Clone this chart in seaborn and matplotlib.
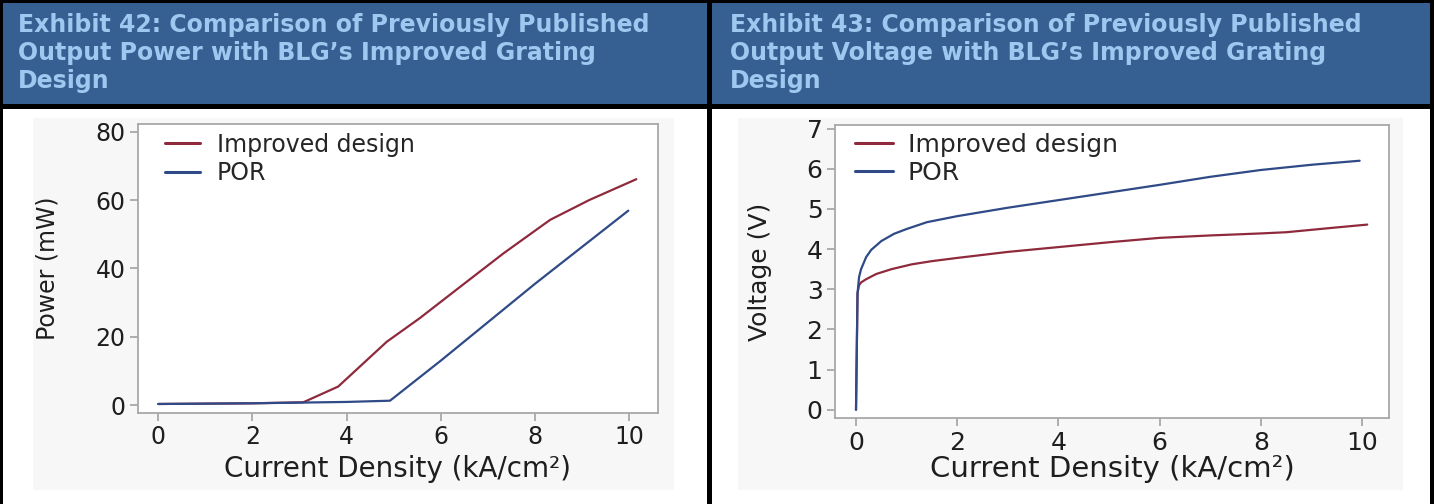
import numpy as np
import pandas as pd
import seaborn as sns
from matplotlib import pyplot as plt
from matplotlib.patches import Rectangle

# power vs current density (left)
power_improved_x = [0, 1, 2, 3.08, 3.82, 4.85, 5.55, 6.41, 7.33, 8.32, 9.15, 10.15]
power_improved_y = [0.3, 0.4, 0.5, 0.8, 5.4, 18.5, 25.4, 34.6, 44.4, 54.2, 60.0, 66.1]
power_por_x = [0, 1, 2, 3, 4, 4.92, 6.0, 8.0, 9.98]
power_por_y = [0.3, 0.4, 0.5, 0.7, 0.9, 1.26, 13.0, 35.5, 56.9]

# voltage vs current density (right)
volt_improved_x = [0, 0.03, 0.06, 0.1, 0.2, 0.4, 0.7, 1.1, 1.5, 2, 3, 4, 5, 6, 7, 8, 8.5, 9, 9.5, 10.1]
volt_improved_y = [0, 2.9, 3.1, 3.17, 3.25, 3.38, 3.5, 3.62, 3.7, 3.78, 3.93, 4.05, 4.17, 4.28, 4.34, 4.39, 4.42, 4.48, 4.54, 4.61]
volt_por_x = [0, 0.03, 0.06, 0.1, 0.2, 0.3, 0.5, 0.75, 1.0, 1.4, 2, 3, 4, 5, 6, 7, 8, 9, 9.95]
volt_por_y = [0, 2.9, 3.3, 3.5, 3.8, 3.98, 4.2, 4.38, 4.5, 4.67, 4.82, 5.03, 5.22, 5.41, 5.6, 5.8, 5.97, 6.1, 6.2]

series_names = ['Improved design', 'POR']
series_colors = ['#8e2a3c', '#2f4a86']

titles = ['Exhibit 42: Comparison of Previously Published\nOutput Power with BLG\u2019s Improved Grating\nDesign',
          'Exhibit 43: Comparison of Previously Published\nOutput Voltage with BLG\u2019s Improved Grating\nDesign']

W, H = 1434, 504


def to_frame(xs, ys):
    parts = []
    for name, x, y in zip(series_names, xs, ys):
        parts.append(pd.DataFrame({'x': x, 'y': y, 'series': name}))
    return pd.concat(parts, ignore_index=True)


def box(fig, x0, y0, x1, y1, color, z=0):
    # pixel box, y measured from the top
    fig.add_artist(Rectangle((x0 / W, 1 - y1 / H), (x1 - x0) / W, (y1 - y0) / H,
                             transform=fig.transFigure, facecolor=color,
                             edgecolor='none', zorder=z))


def ax_rect(x0, y0, x1, y1):
    return [x0 / W, 1 - y1 / H, (x1 - x0) / W, (y1 - y0) / H]


def style_axes(ax, fs_tick):
    for s in ax.spines.values():
        s.set_color('#a8a8a8')
        s.set_linewidth(1.3)
        s.set_visible(True)
    ax.tick_params(axis='both', which='major', direction='out', length=6, width=1.1,
                   bottom=True, left=True, color='#9a9a9a', labelsize=fs_tick,
                   labelcolor='#1e1e1e', pad=3)
    ax.set_facecolor('white')
    ax.grid(False)


sns.set_style('white')
plt.rcParams['font.family'] = ['DejaVu Sans']

fig = plt.figure(figsize=(W / 100, H / 100), dpi=100)
fig.patch.set_facecolor('white')

# header band and table borders
box(fig, 0, 0, W, 106, '#366092')
box(fig, 0, 0, W, 3, 'black', 5)
box(fig, 0, 104, W, 109, 'black', 5)
box(fig, 0, 0, 3, H, 'black', 5)
box(fig, W - 4, 0, W, H, 'black', 5)
box(fig, 707, 0, 712, H, 'black', 5)

# light grey image backgrounds
box(fig, 33, 118, 674, 490, '#f7f7f7', 1)
box(fig, 738, 118, 1403, 490, '#f7f7f7', 1)

for tx, t in zip([18, 730], titles):
    fig.text(tx / W, 1 - 13 / H, t, ha='left', va='top', fontsize=17,
             fontweight='bold', color='#9fc8f0', zorder=6)

palette = dict(zip(series_names, series_colors))

# left chart: power
ax1 = fig.add_axes(ax_rect(138, 124, 658, 413))
df1 = to_frame([power_improved_x, power_por_x], [power_improved_y, power_por_y])
sns.lineplot(data=df1, x='x', y='y', hue='series', palette=palette,
             estimator=None, sort=False, linewidth=1.6, ax=ax1)
ax1.set_xlim(-0.43, 10.61)
ax1.set_ylim(-2.34, 82.26)
ax1.set_xticks([0, 2, 4, 6, 8, 10])
ax1.set_yticks([0, 20, 40, 60, 80])
style_axes(ax1, 17)
ax1.set_xlabel('Current Density (kA/cm\u00b2)', fontsize=20, color='#1e1e1e')
ax1.set_ylabel('Power (mW)', fontsize=17, color='#1e1e1e')
ax1.xaxis.set_label_coords(0.5, -0.145)
ax1.yaxis.set_label_coords(-0.150, 0.5)
ax1.legend(loc='upper left', bbox_to_anchor=(27 / 520, 0.97), frameon=False,
           fontsize=17, handlelength=1.5, handletextpad=0.7, labelspacing=0.2,
           borderpad=0, borderaxespad=0)

# right chart: voltage
ax2 = fig.add_axes(ax_rect(835, 125, 1389, 418))
df2 = to_frame([volt_improved_x, volt_por_x], [volt_improved_y, volt_por_y])
sns.lineplot(data=df2, x='x', y='y', hue='series', palette=palette,
             estimator=None, sort=False, linewidth=1.6, ax=ax2)
ax2.set_xlim(-0.415, 10.53)
ax2.set_ylim(-0.206, 7.09)
ax2.set_xticks([0, 2, 4, 6, 8, 10])
ax2.set_yticks(range(8))
style_axes(ax2, 18)
ax2.set_xlabel('Current Density (kA/cm\u00b2)', fontsize=21, color='#1e1e1e')
ax2.set_ylabel('Voltage (V)', fontsize=18, color='#1e1e1e')
ax2.xaxis.set_label_coords(0.5, -0.125)
ax2.yaxis.set_label_coords(-0.114, 0.5)
ax2.legend(loc='upper left', bbox_to_anchor=(20 / 554, 0.973), frameon=False,
           fontsize=18, handlelength=1.5, handletextpad=0.6, labelspacing=0.15,
           borderpad=0, borderaxespad=0)

for ax in (ax1, ax2):
    ax.set_zorder(3)
    for line in ax.get_legend().get_lines():
        line.set_linewidth(2.2)

fig.savefig('out.png', dpi=100, facecolor=fig.get_facecolor())
